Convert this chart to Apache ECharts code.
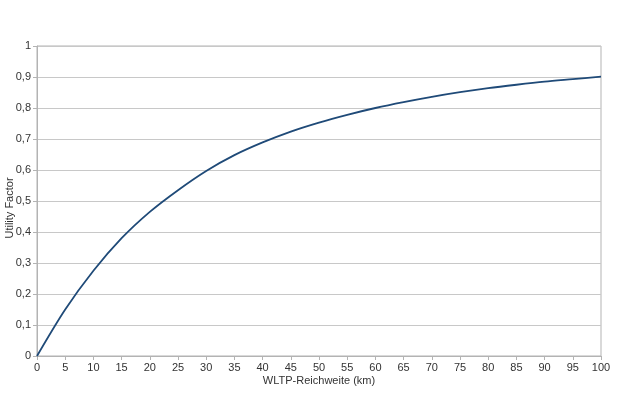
<!DOCTYPE html>
<html>
<head>
<meta charset="utf-8">
<script src="https://cdn.jsdelivr.net/npm/echarts@6/dist/echarts.min.js"></script>
<style>
  html, body { margin: 0; padding: 0; background: #fff; }
  #chart { width: 630px; height: 420px; }
</style>
</head>
<body>
<div id="chart"></div>
<script>
const reichweite = [0, 5, 10, 15, 20, 25, 30, 35, 40, 45, 50, 55, 60, 65, 70, 75, 80, 85, 90, 95, 100];
const utilityFactor = [0, 0.15, 0.275, 0.38, 0.465, 0.535, 0.597, 0.648, 0.689, 0.724, 0.753,
  0.778, 0.8, 0.819, 0.836, 0.851, 0.864, 0.875, 0.885, 0.893, 0.901];

const punkte = reichweite.map((km, i) => [km, utilityFactor[i]]);

const chart = echarts.init(document.getElementById('chart'));

const achsenGrau = '#b3b3b3';
const textFarbe = '#333';

const option = {
  animation: false,
  textStyle: { fontFamily: 'Liberation Sans, Arial, sans-serif' },
  grid: {
    left: 37, top: 46, right: 29, bottom: 64,
    containLabel: false,
    outerBoundsMode: 'none',
    show: true, borderColor: achsenGrau, borderWidth: 1
  },
  xAxis: {
    type: 'value',
    min: 0, max: 100, interval: 5,
    name: 'WLTP-Reichweite (km)',
    nameLocation: 'middle',
    nameGap: 19,
    nameMoveOverlap: false,
    nameTextStyle: { color: textFarbe, fontSize: 11 },
    axisLine: { lineStyle: { color: achsenGrau, width: 1 } },
    axisTick: { show: true, length: 4, lineStyle: { color: achsenGrau } },
    axisLabel: { color: textFarbe, fontSize: 11, margin: 6 },
    splitLine: { show: false }
  },
  yAxis: {
    type: 'value',
    min: 0, max: 1, interval: 0.1,
    name: 'Utility Factor',
    nameLocation: 'middle',
    nameGap: 22,
    nameMoveOverlap: false,
    nameTextStyle: { color: textFarbe, fontSize: 11, padding: [0, 14, 0, 0] },
    axisLine: { show: true, lineStyle: { color: achsenGrau, width: 1 } },
    axisTick: { show: true, length: 4, lineStyle: { color: achsenGrau } },
    axisLabel: {
      color: textFarbe, fontSize: 11, margin: 6,
      formatter: v => String(Math.round(v * 10) / 10).replace('.', ',')
    },
    splitLine: { show: true, lineStyle: { color: '#c8c8c8', width: 1 } }
  },
  series: [{
    type: 'line',
    data: punkte,
    smooth: 0.3,
    showSymbol: false,
    lineStyle: { color: '#1f4a78', width: 1.8 }
  }]
};

chart.setOption(option);
</script>
</body>
</html>
